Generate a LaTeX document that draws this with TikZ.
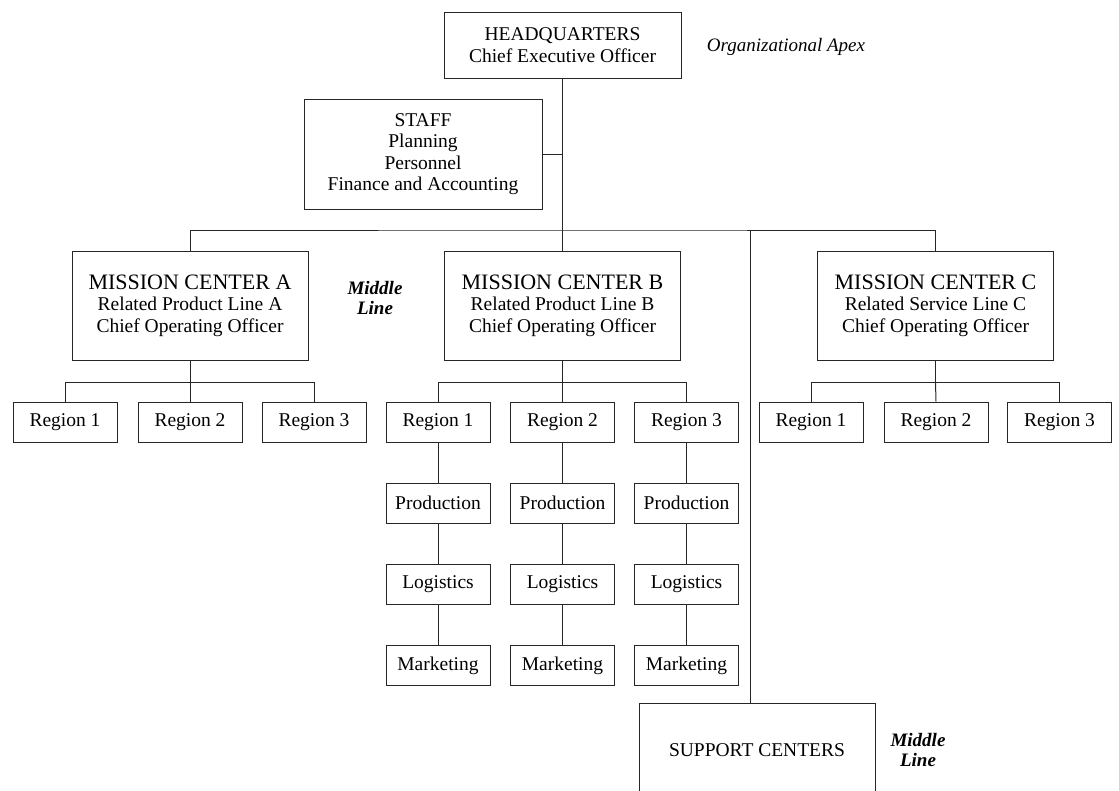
\documentclass[tikz,border=0pt]{standalone}
\usepackage{fontspec}
\setmainfont{Liberation Serif}
\begin{document}
\begin{tikzpicture}[x=1pt,y=-1pt,
  conn/.style={line width=1pt, draw=black!85},
  box/.style={draw=black!85, line width=1pt, align=center, inner sep=0pt,
    font=\fontsize{19.5}{21.5}\selectfont},
  bigbox/.style={box, minimum width=236pt, minimum height=109pt},
  regbox/.style={box, minimum width=104pt, minimum height=40pt},
  lbl/.style={align=center, inner sep=0pt, font=\fontsize{19}{20}\selectfont\bfseries\itshape}]
\useasboundingbox (0,0) rectangle (1119,790);
\clip (0,0) rectangle (1119,790);

% Apex
\node[box, minimum width=237pt, minimum height=66pt] (hq) at (562.5,45)
  {HEADQUARTERS\\Chief Executive Officer};
\node[inner sep=0pt, font=\fontsize{19}{20}\selectfont\itshape] (apex) at (786,47) {Organizational Apex};

% Staff
\node[box, minimum width=238pt, minimum height=110pt] (staff) at (423,154)
  {STAFF\\Planning\\Personnel\\Finance and Accounting};

% Mission centers
\node[bigbox] (mcA) at (190,305.5)
  {{\fontsize{22}{24}\selectfont MISSION CENTER A}\\Related Product Line A\\Chief Operating Officer};
\node[bigbox] (mcB) at (562.5,305.5)
  {{\fontsize{22}{24}\selectfont MISSION CENTER B}\\Related Product Line B\\Chief Operating Officer};
\node[bigbox] (mcC) at (935.5,305.5)
  {{\fontsize{22}{24}\selectfont MISSION CENTER C}\\Related Service Line C\\Chief Operating Officer};
\node[lbl] (ml1) at (375,298) {Middle\\Line};

% Regions
\node[regbox] (aR1) at (65,422) {Region 1};
\node[regbox] (aR2) at (190,422) {Region 2};
\node[regbox] (aR3) at (314,422) {Region 3};
\node[regbox] (bR1) at (438,422) {Region 1};
\node[regbox] (bR2) at (562.5,422) {Region 2};
\node[regbox] (bR3) at (686.5,422) {Region 3};
\node[regbox] (cR1) at (811,422) {Region 1};
\node[regbox] (cR2) at (936,422) {Region 2};
\node[regbox] (cR3) at (1059.5,422) {Region 3};

% Functional boxes under B
\foreach \c/\x in {1/438,2/562.5,3/686.5}{
  \node[regbox] (bP\c) at (\x,503) {Production};
  \node[regbox] (bL\c) at (\x,584) {Logistics};
  \node[regbox] (bM\c) at (\x,665.5) {Marketing};
}

% Support
\node[box, minimum width=236pt, minimum height=94pt] (sup) at (757,750) {SUPPORT CENTERS};
\node[lbl] (ml2) at (918,750) {Middle\\Line};

% Connectors
\draw[conn] (hq) -- (mcB);
\draw[conn] (staff.east) -- (staff.east -| hq.south);
\coordinate (bus) at (562.5,230);
\draw[conn] (mcA.north) |- (bus) -| (mcC.north);
\coordinate (sj) at (750,230);
\draw[conn] (sj) -- (sj |- sup.north);

\foreach \m/\p in {mcA/a,mcB/b,mcC/c}{
  \path (\m.south) ++(0,22) coordinate (\p J);
  \draw[conn] (\m.south) -- (\p J);
  \draw[conn] (\p R1.north) |- (\p J) -| (\p R3.north);
  \draw[conn] (\p J) -- (\p R2.north);
}
\foreach \c in {1,2,3}{
  \draw[conn] (bR\c) -- (bP\c);
  \draw[conn] (bP\c) -- (bL\c);
  \draw[conn] (bL\c) -- (bM\c);
}
\end{tikzpicture}
\end{document}
